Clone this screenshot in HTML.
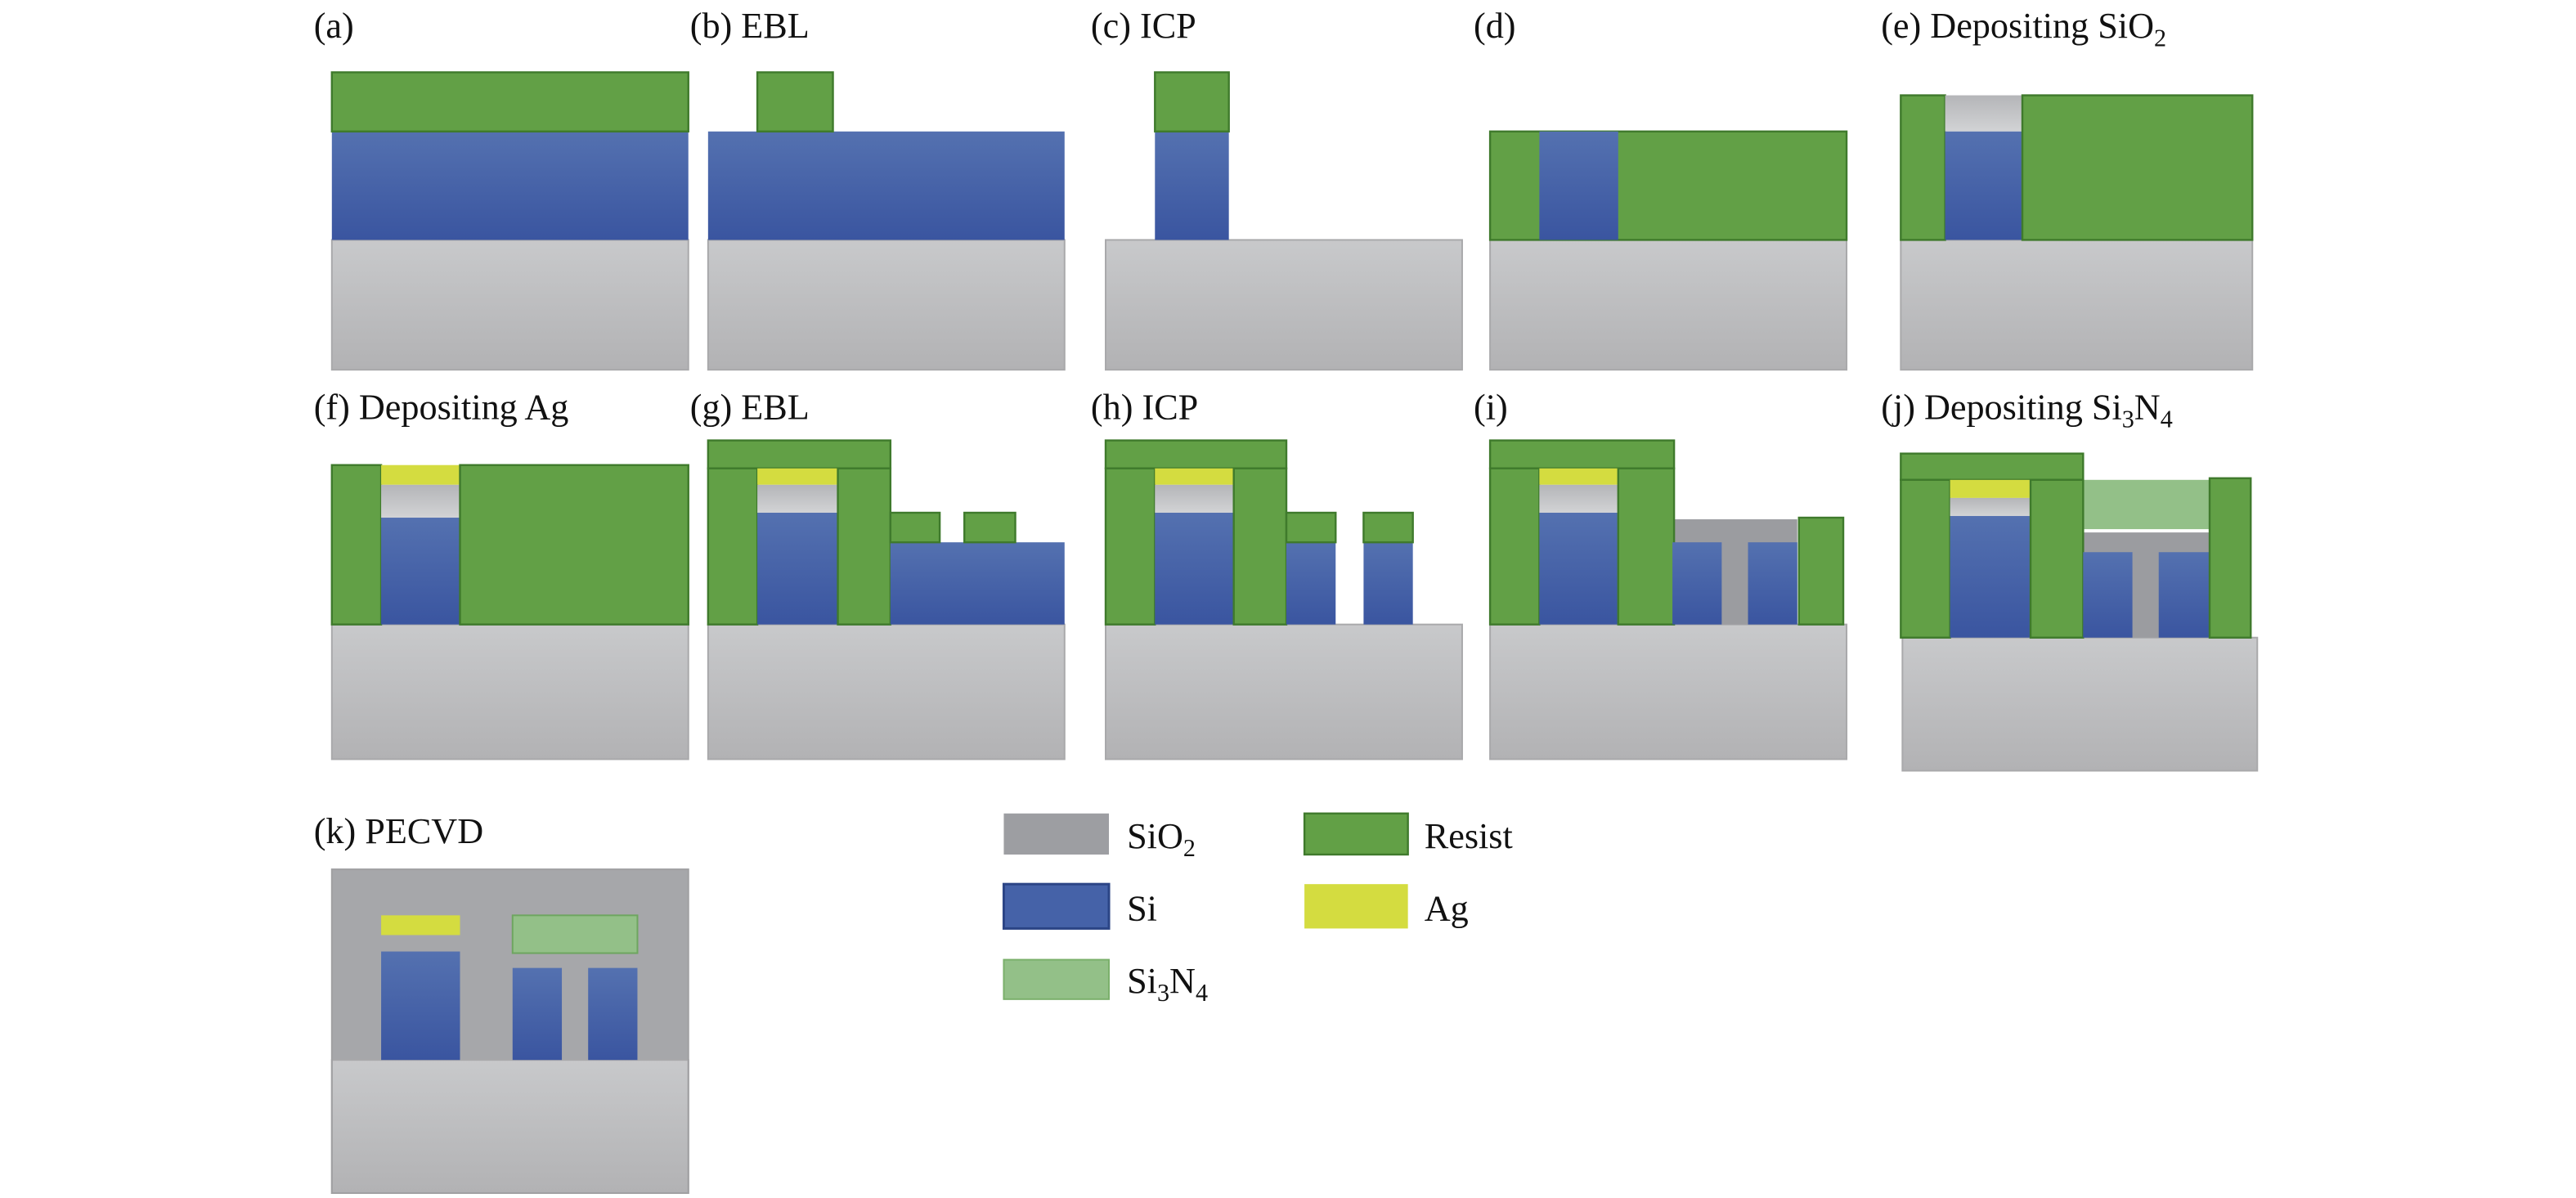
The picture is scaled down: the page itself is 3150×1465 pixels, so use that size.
<!DOCTYPE html>
<html><head><meta charset="utf-8"><style>html,body{margin:0;padding:0;background:#fff}svg{display:block}</style></head>
<body>
<svg width="3150" height="1465" viewBox="0 0 1568 729" preserveAspectRatio="none" xmlns="http://www.w3.org/2000/svg" font-family="Liberation Serif, serif" font-size="22" fill="#111">
<defs>
<linearGradient id="si" x1="0" y1="0" x2="0" y2="1"><stop offset="0" stop-color="#5471b0"/><stop offset="1" stop-color="#3a55a0"/></linearGradient>
<linearGradient id="sub" x1="0" y1="0" x2="0" y2="1"><stop offset="0" stop-color="#c8c9cb"/><stop offset="1" stop-color="#b2b2b4"/></linearGradient>
<linearGradient id="lg" x1="0" y1="0" x2="0" y2="1"><stop offset="0" stop-color="#b4b5b8"/><stop offset="1" stop-color="#d2d3d5"/></linearGradient>
</defs>
<style>
.r{fill:#62a046;stroke:#3f7a2c;stroke-width:1.2}
.s{fill:url(#si)}
.b{fill:url(#sub);stroke:#a9a9ab;stroke-width:1}
.a{fill:#d4dc40}
.n{fill:#93c088}
.g{fill:#9b9ca0}
.l{fill:url(#lg)}
</style>
<!-- labels -->
<text x="191" y="23">(a)</text>
<text x="420" y="23">(b) EBL</text>
<text x="664" y="23">(c) ICP</text>
<text x="897" y="23">(d)</text>
<text x="1145" y="23">(e) Depositing SiO<tspan font-size="15" dy="5">2</tspan></text>
<text x="191" y="255">(f) Depositing Ag</text>
<text x="420" y="255">(g) EBL</text>
<text x="664" y="255">(h) ICP</text>
<text x="897" y="255">(i)</text>
<text x="1145" y="255">(j) Depositing Si<tspan font-size="15" dy="5">3</tspan><tspan dy="-5">N</tspan><tspan font-size="15" dy="5">4</tspan></text>
<text x="191" y="513">(k) PECVD</text>
<!-- a -->
<rect class="b" x="202" y="146" width="217" height="79"/>
<rect class="s" x="202" y="80" width="217" height="66"/>
<rect class="r" x="202" y="44" width="217" height="36"/>
<!-- b -->
<rect class="b" x="431" y="146" width="217" height="79"/>
<rect class="s" x="431" y="80" width="217" height="66"/>
<rect class="r" x="461" y="44" width="46" height="36"/>
<!-- c -->
<rect class="b" x="673" y="146" width="217" height="79"/>
<rect class="s" x="703" y="80" width="45" height="66"/>
<rect class="r" x="703" y="44" width="45" height="36"/>
<!-- d -->
<rect class="b" x="907" y="146" width="217" height="79"/>
<rect class="r" x="907" y="80" width="217" height="66"/>
<rect class="s" x="937" y="80" width="48" height="66"/>
<!-- e -->
<rect class="b" x="1157" y="146" width="214" height="79"/>
<rect class="r" x="1157" y="58" width="27" height="88"/>
<rect class="l" x="1184" y="58" width="47" height="22"/>
<rect class="s" x="1184" y="80" width="47" height="66"/>
<rect class="r" x="1231" y="58" width="140" height="88"/>
<!-- f -->
<rect class="b" x="202" y="380" width="217" height="82"/>
<rect class="r" x="202" y="283" width="30" height="97"/>
<rect class="a" x="232" y="283" width="48" height="12"/>
<rect class="l" x="232" y="295" width="48" height="20"/>
<rect class="s" x="232" y="315" width="48" height="65"/>
<rect class="r" x="280" y="283" width="139" height="97"/>
<!-- g -->
<rect class="b" x="431" y="380" width="217" height="82"/>
<rect class="r" x="431" y="268" width="111" height="17"/>
<rect class="r" x="431" y="285" width="30" height="95"/>
<rect class="a" x="461" y="285" width="49" height="10"/>
<rect class="l" x="461" y="295" width="49" height="17"/>
<rect class="s" x="461" y="312" width="49" height="68"/>
<rect class="r" x="510" y="285" width="32" height="95"/>
<rect class="s" x="542" y="330" width="106" height="50"/>
<rect class="r" x="542" y="312" width="30" height="18"/>
<rect class="r" x="587" y="312" width="31" height="18"/>
<!-- h -->
<rect class="b" x="673" y="380" width="217" height="82"/>
<rect class="r" x="673" y="268" width="110" height="17"/>
<rect class="r" x="673" y="285" width="30" height="95"/>
<rect class="a" x="703" y="285" width="48" height="10"/>
<rect class="l" x="703" y="295" width="48" height="17"/>
<rect class="s" x="703" y="312" width="48" height="68"/>
<rect class="r" x="751" y="285" width="32" height="95"/>
<rect class="s" x="783" y="330" width="30" height="50"/>
<rect class="s" x="830" y="330" width="30" height="50"/>
<rect class="r" x="783" y="312" width="30" height="18"/>
<rect class="r" x="830" y="312" width="30" height="18"/>
<!-- i -->
<rect class="b" x="907" y="380" width="217" height="82"/>
<rect class="g" x="1019" y="316" width="75" height="64"/>
<rect class="r" x="907" y="268" width="112" height="17"/>
<rect class="r" x="907" y="285" width="30" height="95"/>
<rect class="a" x="937" y="285" width="48" height="10"/>
<rect class="l" x="937" y="295" width="48" height="17"/>
<rect class="s" x="937" y="312" width="48" height="68"/>
<rect class="r" x="985" y="285" width="34" height="95"/>
<rect class="s" x="1018" y="330" width="30" height="50"/>
<rect class="s" x="1064" y="330" width="30" height="50"/>
<rect class="r" x="1095" y="315" width="27" height="65"/>
<!-- j -->
<rect class="b" x="1158" y="388" width="216" height="81"/>
<rect class="n" x="1268" y="292" width="77" height="30"/>
<rect class="g" x="1268" y="324" width="77" height="64"/>
<rect class="r" x="1157" y="276" width="111" height="16"/>
<rect class="r" x="1157" y="292" width="30" height="96"/>
<rect class="a" x="1187" y="292" width="49" height="11"/>
<rect class="l" x="1187" y="303" width="49" height="11"/>
<rect class="s" x="1187" y="314" width="49" height="74"/>
<rect class="r" x="1236" y="292" width="32" height="96"/>
<rect class="s" x="1268" y="336" width="30" height="52"/>
<rect class="s" x="1314" y="336" width="31" height="52"/>
<rect class="r" x="1345" y="291" width="25" height="97"/>
<!-- k -->
<rect x="202" y="529" width="217" height="116" fill="#a6a7aa"/>
<rect class="b" x="202" y="645" width="217" height="81"/>
<rect x="202" y="529" width="217" height="197" fill="none" stroke="#a0a0a2"/>
<rect class="a" x="232" y="557" width="48" height="12"/>
<rect class="s" x="232" y="579" width="48" height="66"/>
<rect class="n" x="312" y="557" width="76" height="23" stroke="#6ea660" stroke-width="1"/>
<rect class="s" x="312" y="589" width="30" height="56"/>
<rect class="s" x="358" y="589" width="30" height="56"/>
<!-- legend -->
<rect x="611" y="495" width="64" height="25" fill="#9d9ea2"/>
<rect x="611" y="538" width="64" height="27" fill="#4562a8" stroke="#2c4586" stroke-width="1.5"/>
<rect x="611" y="584" width="64" height="24" class="n" stroke="#7bb06c" stroke-width="1"/>
<rect x="794" y="495" width="63" height="25" class="r"/>
<rect x="794" y="538" width="63" height="27" class="a"/>
<text x="686" y="516">SiO<tspan font-size="15" dy="5">2</tspan></text>
<text x="686" y="560">Si</text>
<text x="686" y="604">Si<tspan font-size="15" dy="5">3</tspan><tspan dy="-5">N</tspan><tspan font-size="15" dy="5">4</tspan></text>
<text x="867" y="516">Resist</text>
<text x="867" y="560">Ag</text>
</svg>
</body></html>
